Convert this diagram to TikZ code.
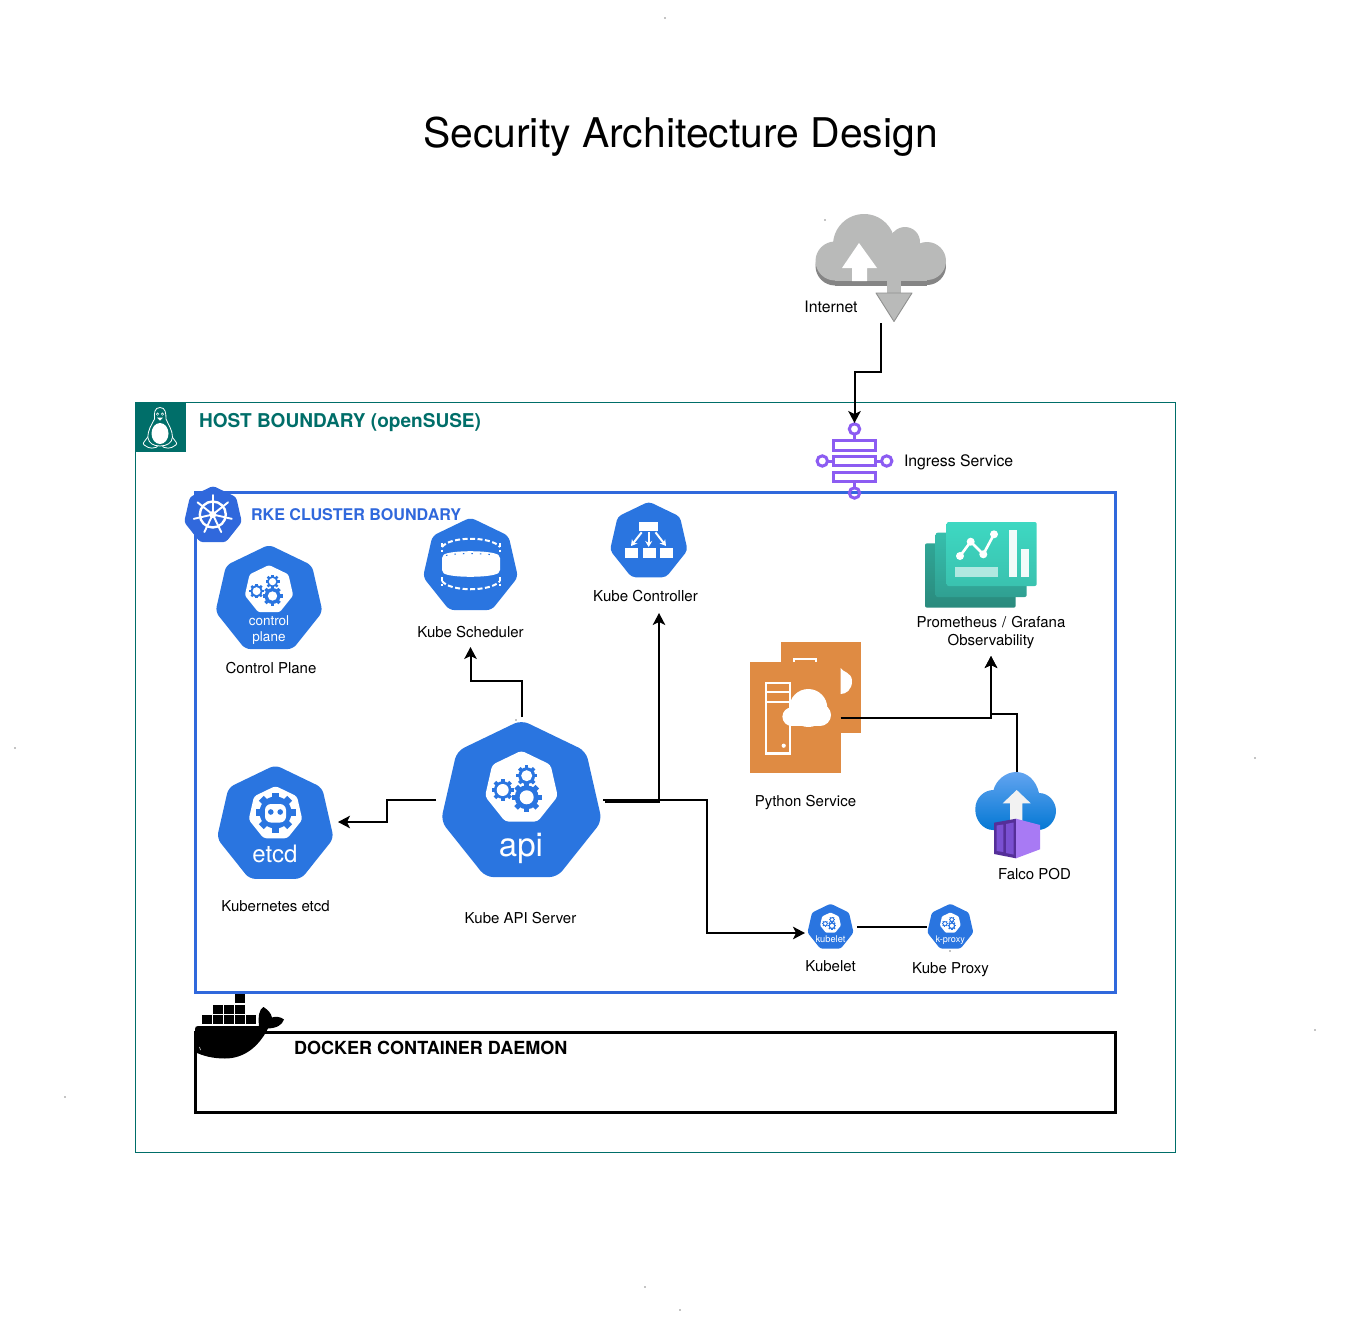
\documentclass[tikz,border=0pt]{standalone}
\usepackage{fontspec}
\setmainfont{TeX Gyre Heros}
\usetikzlibrary{arrows.meta,calc}
\definecolor{kblue}{HTML}{2A75E0}
\definecolor{rkeblue}{HTML}{3068DC}
\definecolor{hostteal}{HTML}{006E69}
\definecolor{cloudgray}{HTML}{B9BAB9}
\definecolor{clouddark}{HTML}{858585}
\definecolor{ingresspurple}{HTML}{8C5CF2}
\definecolor{pyorange}{HTML}{DF8B43}
\definecolor{promaT}{HTML}{30A696}\definecolor{promaB}{HTML}{2A8A7D}
\definecolor{prombT}{HTML}{36BEAC}\definecolor{prombB}{HTML}{30A092}
\definecolor{promcT}{HTML}{3ED8C2}\definecolor{promcB}{HTML}{3AC2AF}
\definecolor{falcoT}{HTML}{62A4F0}\definecolor{falcoB}{HTML}{0478D4}
\definecolor{boxdark}{HTML}{552F99}
\definecolor{boxmid}{HTML}{7A50D2}
\definecolor{boxlight}{HTML}{A87AF4}
\tikzset{
  lbl/.style={inner sep=0pt,outer sep=0pt,text height=13pt,text depth=2pt,font=\fontsize{15}{18}\selectfont,text=black},
  lblwide/.style={lbl,font=\fontsize{15.8}{18}\selectfont},
  lblplain/.style={inner sep=0pt,outer sep=0pt,font=\fontsize{15}{18}\selectfont,text=black},
  iconbox/.style={inner sep=0pt,outer sep=0pt,draw=none,fill=none},
  wtext/.style={inner sep=0pt,outer sep=0pt,anchor=base,text=white},
  conn/.style={draw=black,line width=2pt,line join=miter},
  arr/.style={conn,-{Stealth[length=12pt,width=12.5pt,inset=3pt]}},
  speck/.style={fill=black}
}
% colour, cx, cy, r, corner radius
\newcommand\heptshape[5]{\fill[#1,shift={(#2,#3)},rounded corners=#5pt] (-90:#4) -- (-38.57:#4) -- (12.86:#4) -- (64.29:#4) -- (115.71:#4) -- (167.14:#4) -- (218.57:#4) -- cycle;}
\newcommand\gearshape[4]{\begin{scope}[shift={(#1,#2)}]
  \foreach \a in {0,45,...,315}{\fill[kblue,rotate=\a] ({-.17*#3},0) rectangle ({.17*#3},#3);}
  \fill[kblue] (0,0) circle ({.8*#3});
  \fill[white] (0,0) circle (#4);
\end{scope}}
% kubernetes component icon: cx, cy, scale
\newcommand\kubeicon[3]{\begin{scope}[shift={(#1,#2)},scale=#3]
  \pgfmathsetmacro\rra{8*#3}\pgfmathsetmacro\rrb{3.5*#3}
  \heptshape{kblue}{0}{0}{82.6}{\rra}
  \heptshape{white}{0}{-14.7}{37.3}{\rrb}
  \gearshape{5.3}{-5.4}{15}{7}
  \gearshape{5.3}{-27}{10.5}{5.5}
  \gearshape{-18.7}{-12.7}{11}{6}
\end{scope}}
\begin{document}
\begin{tikzpicture}[x=1pt,y=-1pt]
\useasboundingbox (0,0) rectangle (1345,1322);
\fill[white] (0,0) rectangle (1345,1322);
% specks
\foreach \px/\py in {665/18,825/220,15/748,1255/758,1315/1030,65/1097,645/1287,680/1310,516/720,950/951}{\fill[speck] (\px,\py) circle (.7);}
% title
\node[inner sep=0pt,font=\fontsize{40.9}{46}\selectfont] (title) at (680.5,137) {Security Architecture Design};
% host boundary
\node[draw=hostteal,line width=1pt,inner sep=0pt,minimum width=1040pt,minimum height=750pt] (host) at (655.5,777.5) {};
\fill[hostteal] (135,402) rectangle (186,452);
\node[wtext,anchor=west,text=hostteal,font=\bfseries\fontsize{19.05}{22}\selectfont] (hosttext) at (199,422.5) {HOST BOUNDARY (openSUSE)};
% tux
\begin{scope}[line width=.8pt,draw=white]
  \draw[fill=hostteal,rounded corners=2pt] (150,434) -- (142.5,444) -- (150,448.5) -- (158,447) -- (156,441) -- cycle;
  \draw[fill=hostteal,rounded corners=2pt] (170,434) -- (177.5,444) -- (170,448.5) -- (162,447) -- (164,441) -- cycle;
  \draw[fill=hostteal] (160,407.5) .. controls (154.5,407.5) and (154,413) .. (154.5,419) .. controls (152,424) and (147.5,430) .. (148,438) .. controls (149,443) and (153,446) .. (160,446) .. controls (167,446) and (172,443) .. (172.5,437) .. controls (172.5,430) and (168,424) .. (166,419) .. controls (166,413) and (165.5,407.5) .. (160,407.5) -- cycle;
  \fill[white] (160,433.5) ellipse (8.5 and 10.5);
  \fill[white] (157.6,414) circle (1.6);
  \fill[white] (162.4,414) circle (1.6);
  \fill[hostteal] (157.8,414.2) circle (.7);
  \fill[hostteal] (162.2,414.2) circle (.7);
  \fill[white] (157,417.5) -- (163,417.5) -- (160,420.5) -- cycle;
\end{scope}
% cluster boundary
\node[draw=rkeblue,line width=3pt,inner sep=0pt,minimum width=920pt,minimum height=500pt] (cluster) at (655,742.5) {};
\node[wtext,anchor=west,text=rkeblue,font=\bfseries\fontsize{16.1}{19}\selectfont] (clustertext) at (251,515) {RKE CLUSTER BOUNDARY};
% helm wheel
\heptshape{rkeblue}{213}{515.5}{29.6}{3}
\begin{scope}[shift={(212.8,514.5)}]
  \draw[white,line width=2.4pt] (0,0) circle (13);
  \fill[white] (0,0) circle (3.6);
  \foreach \a in {-90,-38.57,12.86,64.29,115.71,167.14,218.57}{\draw[white,line width=1.9pt,line cap=round] (\a:3) -- (\a:19.5);}
\end{scope}
% docker
\node[draw=black,line width=3pt,inner sep=0pt,minimum width=920pt,minimum height=80pt] (docker) at (655,1072.5) {};
\begin{scope}
  \foreach \bx/\by in {235.3/994.3,213.3/1005,224.3/1005,235.3/1005,202.3/1015,213.3/1015,224.3/1015,235.3/1015,246.3/1015}{\fill[black] (\bx,\by) rectangle ++(9.2,8.8);}
  \fill[black] (195,1029) .. controls (195,1027) and (196,1026) .. (198,1026) -- (259,1026) .. controls (258,1017) and (259,1009) .. (263.5,1007) .. controls (268,1010) and (271,1013) .. (272,1017.5) .. controls (276,1016) and (281,1017) .. (284,1019.5) .. controls (282,1025) and (277,1028) .. (268,1028.5) .. controls (258,1048) and (243,1058.5) .. (225,1058.5) .. controls (213,1058.5) and (203,1056) .. (195,1052) -- cycle;
  \draw[white,line width=.5pt] (199.5,1047) -- (200.5,1050);
\end{scope}
\node[wtext,anchor=west,text=black,font=\bfseries\fontsize{18.05}{21}\selectfont] (dockertext) at (294,1048) {DOCKER CONTAINER DAEMON};
% internet cloud
\foreach \dy/\c in {5/clouddark,0/cloudgray}{
  \begin{scope}[yshift={-\dy pt}]
    \fill[\c] (835,261) circle (19.5);
    \fill[\c] (864,245) circle (31);
    \fill[\c] (905,242) circle (15);
    \fill[\c] (927,261) circle (19);
    \fill[\c] (835,245) rectangle (927,280.5);
    \fill[\c] (893,232) rectangle (915,250);
  \end{scope}
}
\fill[white] (859,243) -- (877,268) -- (867,268) -- (867,281) -- (852,281) -- (852,268) -- (842,268) -- cycle;
\fill[cloudgray] (887,281) rectangle (901,293);
\filldraw[fill=cloudgray,draw=clouddark!80!cloudgray,line width=.9pt,line join=round] (876,293) -- (912,293) -- (894,321.5) -- cycle;
\node[iconbox,minimum width=130pt,minimum height=110pt] (internet) at (881,268) {};
\node[lblwide] (internetlabel) at (831,307) {Internet};
% ingress
\node[iconbox,minimum width=76pt,minimum height=76pt] (ingress) at (854.5,461) {};
\begin{scope}[draw=ingresspurple,line width=3pt]
  \draw (854.5,434) -- (854.5,440);
  \draw (854.5,482) -- (854.5,488);
  \draw (827.5,461) -- (833,461);
  \draw (876,461) -- (881.5,461);
  \draw (833.5,440.5) rectangle (875.5,450);
  \draw (833.5,456.8) rectangle (875.5,465.2);
  \draw (833.5,472.2) rectangle (875.5,481.8);
  \draw (854.5,429) circle (5.2);
  \draw (822.3,461) circle (5.2);
  \draw (886.7,461) circle (5.2);
  \draw (854.5,493) circle (5.2);
\end{scope}
\node[lblwide,anchor=west] (ingresslabel) at (904,461) {Ingress Service};
% control plane
\kubeicon{269}{599.6}{.665}
\node[wtext,font=\fontsize{13.5}{15}\selectfont] (cptext1) at (269,625) {control};
\node[wtext,font=\fontsize{13.5}{15}\selectfont] (cptext2) at (269,641) {plane};
\node[lbl] (cplabel) at (271,668) {Control Plane};
% scheduler
\heptshape{kblue}{470.5}{566.2}{48.7}{5}
\begin{scope}[white]
  \fill[white,rounded corners=2pt] (442,556) .. controls (450,550) and (491,550) .. (500,556) -- (500,572) .. controls (491,578) and (450,578) .. (442,572) -- cycle;
  \draw[white,line width=2pt,dash pattern=on 5pt off 2.5pt] (442,547) .. controls (450,536) and (491,536) .. (500,547);
  \draw[white,line width=2pt,dash pattern=on 4pt off 2.5pt] (442,543) -- (442,552);
  \draw[white,line width=2pt,dash pattern=on 4pt off 2.5pt] (500,543) -- (500,552);
  \draw[white,line width=2pt,dash pattern=on 5pt off 2.5pt] (442,581) .. controls (450,592) and (491,592) .. (500,581);
  \draw[white,line width=2pt,dash pattern=on 4pt off 2.5pt] (442,577) -- (442,586);
  \draw[white,line width=2pt,dash pattern=on 4pt off 2.5pt] (500,577) -- (500,586);
  \draw[kblue,line width=1pt,dash pattern=on 1.5pt off 7pt] (446,555.5) .. controls (455,553) and (486,553) .. (496,555.5);
\end{scope}
\node[lbl,minimum height=30pt] (schedlabel) at (470.5,632) {Kube Scheduler};
% controller
\heptshape{kblue}{648.8}{541.4}{39.8}{4}
\fill[white] (638.7,521.7) rectangle (658.3,531);
\fill[white] (625,548.3) rectangle (638.3,557.7);
\fill[white] (642.7,548.3) rectangle (655.7,557.7);
\fill[white] (660,548.3) rectangle (672.7,557.7);
\begin{scope}[white,line width=2pt,-{Stealth[length=6pt,width=7pt]}]
  \draw (641.7,532.3) -- (631,546);
  \draw (648.7,532.3) -- (648.7,547);
  \draw (655.5,532.3) -- (666,546);
\end{scope}
\node[lbl,font=\fontsize{15.1}{18}\selectfont,minimum height=34pt] (ctrllabel) at (645.5,596) {Kube Controller};
% observability
\shade[top color=promaT,bottom color=promaB,rounded corners=2pt] (925,543.3) rectangle (1015.7,607.7);
\shade[top color=prombT,bottom color=prombB,rounded corners=2pt] (935.7,532.7) rectangle (1026.7,597);
\shade[top color=promcT,bottom color=promcB,rounded corners=2pt] (946.7,522) rectangle (1036.7,586);
\fill[white,opacity=.93] (1009.3,530) rectangle (1017.3,576.7);
\fill[white,opacity=.93] (1021,549.3) rectangle (1029,576.7);
\fill[white,opacity=.6] (955,567.3) rectangle (998.3,576.7);
\draw[white,line width=2.6pt] (960,556) -- (970.7,541.7) -- (983.3,554.3) -- (994,534.3);
\foreach \px/\py in {960/556,970.7/541.7,983.3/554.3,994/534.3}{\fill[white] (\px,\py) circle (4);}
\node[lblplain,align=center,minimum height=46pt,text width=170pt] (promlabel) at (991,633) {Prometheus / Grafana\\Observability};
% python service
\fill[pyorange] (780.7,642.3) rectangle (860.7,732.7);
\fill[white] (793,658.3) rectangle (816.7,662.3);
\fill[pyorange] (795,660) rectangle (814.7,662.5);
\node[fill=pyorange,inner sep=0pt,outer sep=0pt,minimum width=90.7pt,minimum height=110.4pt] (python) at (795.35,717.5) {};
\fill[white] (840.7,668) .. controls (842,672) and (852,672) .. (852,681) .. controls (852,690) and (846,694) .. (840.7,694) -- cycle;
\draw[white,line width=2.2pt] (766,682.7) rectangle (790,753.5);
\draw[white,line width=2pt] (766,692.3) -- (790,692.3);
\draw[white,line width=2pt] (766,701.7) -- (790,701.7);
\fill[white] (783.7,745.7) circle (2.1);
\fill[white] (808.3,708) circle (19);
\fill[white] (791.7,716.7) circle (9.3);
\fill[white] (820,715) circle (11);
\fill[white] (791.7,712) rectangle (820,726);
\node[lbl] (pylabel) at (805.5,801) {Python Service};
% falco
\shade[top color=falcoT,bottom color=falcoB] (993,830) .. controls (983,830) and (975,820) .. (975.3,809) .. controls (975.3,798) and (984,790) .. (993.5,790) .. controls (996,780) and (1006,772) .. (1016,772) .. controls (1027,772) and (1036,780) .. (1039,793) .. controls (1049,793) and (1056,802) .. (1056,811) .. controls (1056,821) and (1048,830) .. (1038,830) -- cycle;
\fill[black!5] (1016.7,790) -- (1030.7,803.3) -- (1022.3,803.3) -- (1022.3,824) -- (1010,824) -- (1010,803.3) -- (1002.7,803.3) -- cycle;
\fill[boxdark] (994,822.7) -- (1016,818.7) -- (1016,858.3) -- (994,854) -- cycle;
\fill[boxmid] (996.7,825.5) -- (1003.3,824.5) -- (1003.3,852) -- (996.7,851) -- cycle;
\fill[boxmid] (1006,824) -- (1013.5,822.5) -- (1013.5,854.5) -- (1006,853) -- cycle;
\fill[boxlight] (1016,818.7) -- (1040,825) -- (1040,849.3) -- (1016,858.3) -- cycle;
\node[iconbox,minimum width=84pt,minimum height=86pt] (falco) at (1016.5,815) {};
\node[lbl] (falcolabel) at (1034.5,874) {Falco POD};
% api
\kubeicon{521.4}{802.7}{1}
\node[wtext,font=\fontsize{33}{35}\selectfont] (apitext) at (521,856) {api};
\node[iconbox,minimum width=167pt,minimum height=166pt] (api) at (519.5,800) {};
\node[lbl] (apilabel) at (520.5,918) {Kube API Server};
% etcd
\heptshape{kblue}{275.3}{824.9}{59.9}{6}
\heptshape{white}{275.5}{813.5}{27.5}{3}
\gearshape{275.5}{812.5}{20}{0}
\fill[white,rounded corners=6pt] (265,804) rectangle (286,822.5);
\fill[kblue] (270.8,812) circle (2.8);
\fill[kblue] (280.2,812) circle (2.8);
\node[wtext,font=\fontsize{24}{26}\selectfont] (etcdtext) at (275,862.7) {etcd};
\node[iconbox,minimum width=126pt,minimum height=116pt] (etcd) at (275,822) {};
\node[lbl] (etcdlabel) at (275.5,906) {Kubernetes etcd};
% kubelet, proxy
\kubeicon{830.5}{927.3}{.286}
\node[wtext,font=\fontsize{9.3}{11}\selectfont] (kubelettext) at (830.5,942) {kubelet};
\node[iconbox,minimum width=52pt,minimum height=48pt] (kubelet) at (831,927) {};
\node[lbl] (kubeletlabel) at (830.5,966) {Kubelet};
\kubeicon{950.3}{927.3}{.286}
\node[wtext,font=\fontsize{9.1}{11}\selectfont] (proxytext) at (950.3,942) {k-proxy};
\node[iconbox,minimum width=47pt,minimum height=48pt] (proxy) at (950.5,927) {};
\node[lbl] (proxylabel) at (950.5,968) {Kube Proxy};
% connectors
\draw[arr] (internet.south) -- ++(0,49) -| (ingress.north);
\draw[arr] ([xshift=2pt]api.north) -- ++(0,-36) -| (schedlabel.south);
\draw[arr] (api.west) -- ++(-49,0) |- (etcd.east);
\draw[arr] ([shift={(2,1.5)}]api.east) -| ([xshift=13.5pt]ctrllabel.south);
\draw[arr] (api.east) -- ++(104,0) |- ([yshift=-6pt]kubelet.west);
\draw[arr] (python.east) -| (promlabel.south);
\draw[arr] (falco.north) -- ++(0,-58) -| (promlabel.south);
\draw[conn] (kubelet.east) -- (proxy.west);
\end{tikzpicture}
\end{document}
